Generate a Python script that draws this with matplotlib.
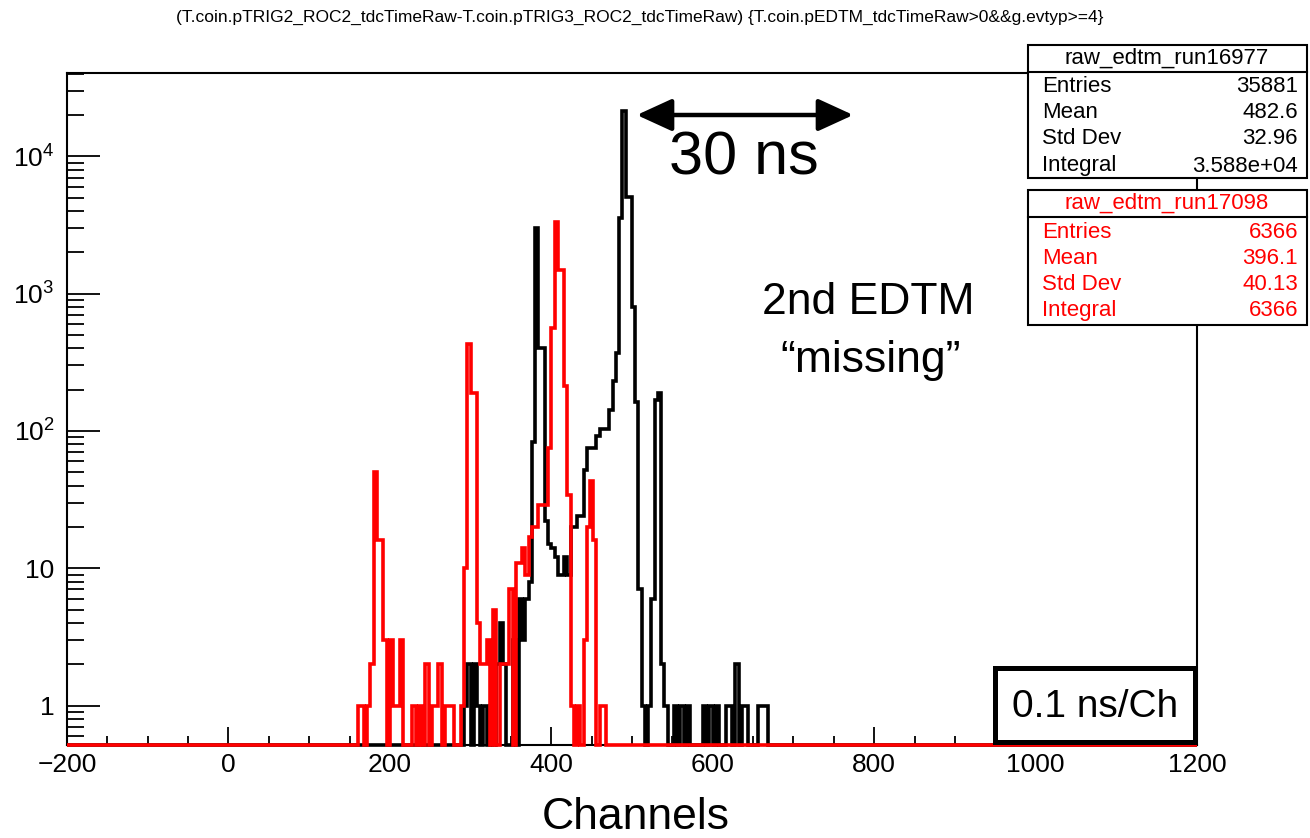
import numpy as np
import matplotlib
matplotlib.use("Agg")
import matplotlib.pyplot as plt
from matplotlib.ticker import FixedLocator, LogLocator, NullFormatter, FuncFormatter, MultipleLocator
from matplotlib.patches import Rectangle, FancyArrowPatch
from matplotlib.lines import Line2D

# ---------------- data (4-channel bins) ----------------
BIN_WIDTH = 4
X_MIN, X_MAX = -200, 1200

black_name = "raw_edtm_run16977"
black_start = 288
black_counts = [0, 1, 2, 0, 2, 1, 0, 1, 0, 1,
                0, 2, 4, 2, 0, 0, 3, 0, 6, 3,
                6, 8, 83, 3000, 400, 400, 22, 15, 14, 12,
                9, 9, 12, 9, 20, 20, 24, 24, 52, 75,
                75, 75, 92, 103, 103, 103, 141, 231, 367, 3530,
                21400, 5020, 5020, 800, 162, 7, 1, 0, 1, 6,
                168, 190, 2, 1, 0, 0, 1, 0, 1, 0,
                1, 0, 0, 0, 0, 1, 0, 1, 0, 1,
                0, 0, 1, 1, 0, 2, 0, 1, 1, 0,
                0, 0, 1, 1, 1, 0]

red_name = "raw_edtm_run17098"
red_start = 156
red_counts = [0, 1, 1, 0, 1, 2, 50, 16, 16, 3,
              0, 3, 1, 1, 3, 0, 0, 0, 1, 0,
              1, 0, 2, 0, 1, 1, 2, 0, 1, 1,
              1, 0, 0, 1, 10, 433, 190, 190, 4, 2,
              2, 3, 0, 5, 0, 2, 2, 2, 7, 0,
              11, 11, 14, 9, 17, 20, 20, 29, 29, 29,
              75, 565, 3300, 1480, 1480, 214, 34, 1, 0, 1,
              0, 3, 20, 43, 16, 0, 1, 1, 0]

stat_labels = ["Entries", "Mean", "Std Dev", "Integral"]
black_stats = ["35881", "482.6", "32.96", "3.588e+04"]
red_stats = ["6366", "396.1", "40.13", "6366"]

title = "(T.coin.pTRIG2_ROC2_tdcTimeRaw-T.coin.pTRIG3_ROC2_tdcTimeRaw) {T.coin.pEDTM_tdcTimeRaw>0&&g.evtyp>=4}"
xlabel = "Channels"
x_major = [-200, 0, 200, 400, 600, 800, 1000, 1200]
y_major = [1, 10, 100, 1000, 10000]
Y_MIN, Y_MAX = 0.516, 40400

# ---------------- figure ----------------
W, H = 1310, 838
plt.rcParams['font.family'] = ['Liberation Sans', 'DejaVu Sans']
plt.rcParams['mathtext.fontset'] = 'custom'
plt.rcParams['mathtext.rm'] = 'Liberation Sans'
plt.rcParams['mathtext.it'] = 'Liberation Sans'

fig = plt.figure(figsize=(W / 100, H / 100), dpi=100)
fig.patch.set_facecolor('white')

def fx(px):
    return px / W

def fy(py):
    return 1 - py / H

L, R, T, B = 67, 1197, 73, 745
ax = fig.add_axes([fx(L), fy(B), fx(R) - fx(L), fy(T) - fy(B)])
ax.set_yscale('log')
ax.set_xlim(X_MIN, X_MAX)
ax.set_ylim(Y_MIN, Y_MAX)

edges = np.arange(X_MIN, X_MAX + BIN_WIDTH, BIN_WIDTH)
nb = len(edges) - 1

def full_counts(start, counts):
    arr = np.zeros(nb)
    i0 = (start - X_MIN) // BIN_WIDTH
    arr[i0:i0 + len(counts)] = counts
    return np.where(arr > 0, arr, Y_MIN)

hb = full_counts(black_start, black_counts)
hr = full_counts(red_start, red_counts)

lw_hist = 2.6
ax.stairs(hb, edges, baseline=None, color='black', lw=lw_hist, clip_on=False, zorder=3)
ax.stairs(hr, edges, baseline=None, color='#ff0000', lw=lw_hist, clip_on=False, zorder=4)

for s in ax.spines.values():
    s.set_linewidth(1.5)
    s.set_zorder(2)

ax.xaxis.set_major_locator(FixedLocator(x_major))
ax.xaxis.set_minor_locator(MultipleLocator(50))
ax.yaxis.set_major_locator(FixedLocator(y_major))
ax.yaxis.set_minor_locator(LogLocator(base=10, subs=np.arange(2, 10)))
ax.yaxis.set_minor_formatter(NullFormatter())

def yfmt(v, pos):
    if v == 1:
        return "1"
    if v == 10:
        return "10"
    k = int(round(np.log10(v)))
    return r"$\mathregular{10^{%d}}$" % k

ax.yaxis.set_major_formatter(FuncFormatter(yfmt))
ax.tick_params(axis='x', which='major', direction='in', length=13, width=1.3,
               labelsize=19, pad=6, top=False)
ax.tick_params(axis='x', which='minor', direction='in', length=6.5, width=1.3, top=False)
ax.tick_params(axis='y', which='major', direction='in', length=24, width=1.3,
               labelsize=19, pad=9, right=False)
ax.tick_params(axis='y', which='minor', direction='in', length=12, width=1.3, right=False)

# ---------------- texts ----------------
fig.text(fx(640), fy(17), title, ha='center', va='center', fontsize=12.5)
fig.text(fx(636), fy(817), xlabel, ha='center', va='center', fontsize=32)

fig.text(fx(744), fy(159), "30 ns", ha='center', va='center', fontsize=44)
fig.text(fx(868), fy(302), "2nd EDTM", ha='center', va='center', fontsize=32)
fig.text(fx(871), fy(360), "\u201cmissing\u201d", ha='center', va='center', fontsize=32)

arrow = FancyArrowPatch((fx(634), fy(115)), (fx(856), fy(115)),
                        transform=fig.transFigure,
                        arrowstyle='<|-|>,head_length=1.2,head_width=0.55',
                        mutation_scale=18, lw=3.2, color='black')
fig.add_artist(arrow)

# 0.1 ns/Ch box
fig.add_artist(Rectangle((fx(995), fy(742)), fx(1195) - fx(995), fy(668) - fy(742),
                         transform=fig.transFigure, facecolor='white',
                         edgecolor='black', lw=3.6, zorder=5))
fig.text(fx(1095), fy(707), "0.1 ns/Ch", ha='center', va='center', fontsize=28, zorder=6)

# stats boxes
def stats_box(top, bottom, divider, name, vals, color, rows_y):
    fig.add_artist(Rectangle((fx(1028), fy(bottom)), fx(1307) - fx(1028), fy(top) - fy(bottom),
                             transform=fig.transFigure, facecolor='white',
                             edgecolor='black', lw=1.5, zorder=5))
    fig.add_artist(Line2D([fx(1028), fx(1307)], [fy(divider), fy(divider)],
                          transform=fig.transFigure, color='black', lw=1.5, zorder=6))
    fig.text(fx(1167), fy((top + divider) / 2), name, ha='center', va='center',
             fontsize=16, color=color, zorder=7)
    for lab, val, yy in zip(stat_labels, vals, rows_y):
        fig.text(fx(1042), fy(yy), lab, ha='left', va='center', fontsize=16, color=color, zorder=7)
        fig.text(fx(1298), fy(yy), val, ha='right', va='center', fontsize=16, color=color, zorder=7)

stats_box(45, 178, 72, black_name, black_stats, 'black', [87, 112, 138, 166])
stats_box(190, 325, 217, red_name, red_stats, '#ff0000', [232, 258, 285, 310])

fig.savefig("out.png", dpi=100, facecolor='white')
